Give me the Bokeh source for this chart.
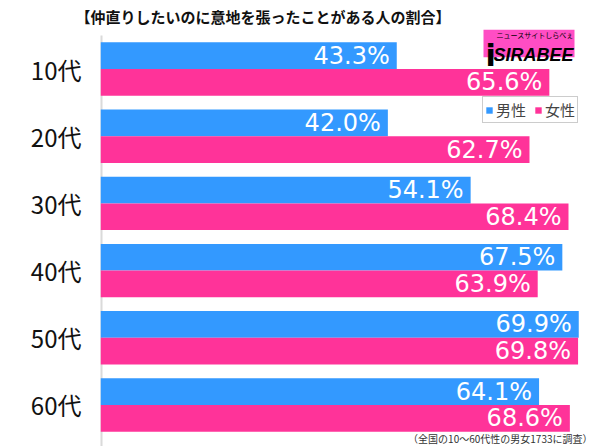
from bokeh.plotting import figure
from bokeh.models import Range1d, FixedTicker, Label, ColumnDataSource
from bokeh.core.properties import value
from bokeh.embed import file_html
from bokeh.resources import INLINE

# ---- data ----
categories = ["10代", "20代", "30代", "40代", "50代", "60代"]
male = [43.3, 42.0, 54.1, 67.5, 69.9, 64.1]
female = [65.6, 62.7, 68.4, 63.9, 69.8, 68.6]
series_names = ["男性", "女性"]
title_text = "【仲直りしたいのに意地を張ったことがある人の割合】"
note_text = "（全国の10～60代性の男女1733に調査）"

# ---- layout ----
W, H = 600, 446
LEFT = 100
FTOP = 24          # top of plotting frame (title sits above)
PX_PER = 6.842
PITCH = 68
GTOP = 30          # top of first category band
FONT = "Noto Sans CJK JP"
BLUE = "#3399FF"
PINK = "#FF3399"

x_end = (W - LEFT) / PX_PER
n = len(categories)


def sx(fx):
    return (fx - LEFT) / PX_PER


def sy(fy):
    return n - (fy - GTOP) / PITCH


p = figure(width=W, height=H,
           x_range=Range1d(0, x_end), y_range=Range1d(sy(H), sy(FTOP)),
           x_axis_location=None,
           min_border_left=LEFT, min_border_right=0, min_border_top=FTOP, min_border_bottom=0,
           output_backend="svg", toolbar_location=None, outline_line_color=None,
           background_fill_color="white", border_fill_color="white")
p.xgrid.visible = False
p.ygrid.visible = False

# title in the panel above the frame
p.title.text = title_text
p.title.align = "left"
p.title.offset = -25
p.title.standoff = 6
p.title.text_font_size = "15px"
p.title.text_font_style = "bold"
p.title.text_color = "#111111"
p.title.text_font = FONT

bar_h = 27 / 68
off = bar_h / 2
cat_y = [n - i - 0.5 for i in range(n)]
src = ColumnDataSource(dict(
    cat=categories,
    ym=[y + off for y in cat_y],
    yf=[y - off for y in cat_y],
    male=male, female=female,
    ml=[f"{v:.1f}%" for v in male],
    fl=[f"{v:.1f}%" for v in female],
))

# axis line (light gray, starts at top of category area)
p.segment(x0=[0], y0=[sy(GTOP)], x1=[0], y1=[sy(H)], line_color="#dadada", line_width=4)

p.hbar(y="ym", left=0, right="male", height=bar_h, source=src,
       fill_color=BLUE, line_color=None, legend_label=series_names[0])
p.hbar(y="yf", left=0, right="female", height=bar_h, source=src,
       fill_color=PINK, line_color=None, legend_label=series_names[1])

for col, ycol, xcol in (("ml", "ym", "male"), ("fl", "yf", "female")):
    p.text(x=xcol, y=ycol, text=col, source=src, x_offset=-7,
           text_align="right", text_baseline="middle", text_color="white",
           text_font_size="24px", text_font=value("DejaVu Sans"))

# y axis with category labels
ax = p.yaxis[0]
ax.ticker = FixedTicker(ticks=cat_y)
ax.major_label_overrides = {y: c for y, c in zip(cat_y, categories)}
ax.axis_line_color = None
ax.major_tick_line_color = None
ax.minor_tick_line_color = None
ax.major_label_standoff = 13
ax.major_label_text_font_size = "24px"
ax.major_label_text_color = "#111111"
ax.major_label_text_font = FONT

# legend
lg = p.legend[0]
lg.orientation = "horizontal"
lg.location = (382, H - 123)
lg.glyph_width = 8
lg.glyph_height = 8
lg.label_height = 14
lg.label_standoff = 3
lg.spacing = 8
lg.padding = 2
lg.margin = 0
lg.label_text_font_size = "15px"
lg.label_text_color = "#444444"
lg.label_text_font = FONT
lg.border_line_color = "#999999"
lg.background_fill_alpha = 1

# logo
p.quad(left=[sx(483)], right=[sx(574)], top=[sy(24)], bottom=[sy(52)],
       fill_color="#ff4dc4", line_color=None)
p.text(x=[sx(485)], y=[sy(50)], text=["i"], text_align="left", text_baseline="alphabetic",
       text_font_size="30px", text_font_style="bold", text_color="black",
       text_font=value("DejaVu Sans"))
p.text(x=[sx(573)], y=[sy(50)], text=["SIRABEE"], text_align="right", text_baseline="alphabetic",
       text_font_size="18px", text_font_style="bold italic", text_color="black",
       text_font=value("Liberation Sans"))
p.text(x=[sx(573)], y=[sy(30)], text=["ニュースサイトしらべぇ"], text_align="right",
       text_baseline="middle", text_font_size="7px", text_color="black",
       text_font=value(FONT))

# footnote
p.add_layout(Label(x=sx(592), y=sy(438), text=note_text, text_align="right",
                   text_baseline="middle", text_font_size="10px",
                   text_color="#333333", text_font=FONT))

open("out.html", "w").write(file_html(p, INLINE))
